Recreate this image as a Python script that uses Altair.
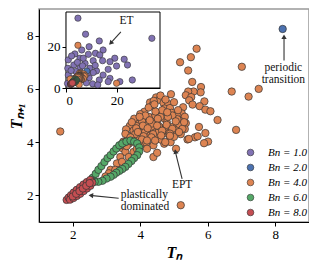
import altair as alt
import pandas as pd

bn_labels = ["Bn = 1.0", "Bn = 2.0", "Bn = 4.0", "Bn = 6.0", "Bn = 8.0"]
bn_colors = ["#8172B3", "#4C72B0", "#DD8452", "#55A868", "#C44E52"]

# Bn = 1.0 (only in inset range)
bn1_x = [4.7, 7.7, 13.1, 9.1, 33.8, 14.6, 11.6, 6.2, 3.5, 0.9, 5.5, 8.8, 13.3, 19.2, 22.9,
         24.2, 19.9, 16.6, 14.4, 10.7, 7.5, 3.1, 0.7, 12.0, 14.6, 17.3, 13.1, 9.1, 26.1,
         21.2, 16.6, 5.5, 3.9, 0.9, 9.4, 6.8, 2.2, 17.3, 10.7, 8.4, 1.5, 2.5, 0.6, 6.0,
         7.0, 10.5, 12.5, 8.0, 11.5, 4.5, 2.0, 6.5]
bn1_y = [34.0, 26.2, 22.9, 20.1, 24.2, 18.5, 16.9, 18.5, 16.6, 13.7, 14.5, 16.4, 16.1, 14.5,
         14.0, 11.2, 10.7, 9.1, 13.3, 13.3, 12.0, 11.2, 9.6, 8.3, 6.3, 4.7, 3.9, 5.0, 3.9,
         3.1, 3.1, 9.6, 8.0, 6.3, 9.6, 14.5, 15.6, 12.8, 7.5, 7.2, 3.0, 4.5, 2.2, 6.5, 4.0,
         2.0, 1.5, 2.5, 11.0, 12.5, 8.5, 10.8]

# Bn = 2.0
bn2_x = [8.22]
bn2_y = [8.25]

# Bn = 4.0
bn4_x = [5.67, 5.50, 5.18, 5.42, 7.01, 5.54, 5.80, 5.79, 6.71, 7.51, 7.21, 5.58, 5.42, 5.35,
         5.51, 5.45, 5.90, 5.55, 5.27, 5.76, 5.93, 6.08, 5.23, 5.32, 5.18, 5.35, 6.29, 6.84,
         5.32, 5.74, 5.93, 5.62, 5.70, 5.40, 6.01, 5.89,
         4.91, 4.47, 4.56, 4.29, 4.69, 4.83, 4.36, 4.72, 4.88, 4.12, 4.57, 4.93, 5.08, 3.82,
         4.34, 4.72, 5.10, 3.97, 4.20, 4.49, 4.79, 5.15, 3.69, 4.10, 4.34, 4.59, 4.96, 3.80,
         4.02, 4.44, 4.69, 5.08, 5.44, 3.71, 4.20, 4.49, 4.88, 3.66, 4.00, 4.39, 4.71, 5.06,
         3.46,
         3.90, 4.05, 4.25, 4.45, 4.60, 4.15, 4.30, 4.60, 4.75, 4.55, 3.95, 3.85, 4.35, 4.65,
         4.95, 4.85, 4.25, 4.40, 4.00, 4.60, 4.75, 5.00, 4.15, 3.75, 4.55, 4.90, 5.20, 5.25,
         5.00,
         3.58, 3.88, 4.08, 4.28, 4.52, 4.82, 3.62, 3.93, 4.22, 4.50, 4.78, 5.05, 4.10, 4.38,
         4.65, 4.95, 3.78, 4.05, 4.33, 4.62, 4.88, 5.15, 3.50, 3.98, 4.45, 5.12, 5.30, 4.42,
         4.18, 4.80,
         3.56, 3.71, 3.41, 4.20, 4.44, 4.74, 4.88, 4.39, 4.50, 4.20, 3.56, 3.41, 3.31, 3.12,
         3.80, 3.66, 3.46, 3.26, 3.07, 2.97, 3.60, 3.90, 3.55,
         1.63, 5.20, 4.7, 19.9]
bn4_y = [7.51, 7.19, 7.00, 6.69, 6.83, 6.26, 6.07, 5.87, 5.90, 6.00, 5.71, 5.90, 5.90, 5.76,
         5.69, 5.57, 5.53, 5.41, 5.31, 5.35, 5.22, 5.16, 5.08, 4.95, 4.79, 4.71, 4.83, 4.46,
         4.49, 4.57, 4.34, 4.18, 4.22, 4.10, 4.02, 3.96,
         5.80, 5.68, 5.59, 5.49, 5.47, 5.43, 5.38, 5.26, 5.28, 5.14, 5.08, 5.10, 5.04, 4.88,
         4.92, 4.88, 4.86, 4.70, 4.71, 4.73, 4.73, 4.62, 4.61, 4.55, 4.53, 4.55, 4.57, 4.43,
         4.33, 4.36, 4.33, 4.43, 4.12, 4.12, 4.12, 4.21, 4.18, 3.94, 3.88, 3.88, 3.94, 3.75,
         3.78,
         4.60, 4.80, 4.95, 5.00, 4.95, 4.40, 4.25, 4.10, 4.50, 4.40, 4.15, 4.30, 4.70, 5.20,
         5.00, 4.35, 5.30, 5.55, 5.05, 5.75, 5.60, 5.50, 5.00, 4.75, 4.60, 4.00, 4.30, 4.50,
         4.20,
         4.48, 4.52, 4.62, 4.82, 4.88, 4.95, 4.25, 4.38, 4.52, 4.62, 4.65, 4.78, 4.22, 4.30,
         4.43, 4.50, 4.02, 4.10, 4.18, 4.25, 4.32, 4.38, 4.02, 4.95, 5.15, 5.20, 4.75, 5.42,
         3.98, 5.12,
         4.31, 4.18, 3.88, 4.06, 4.06, 4.00, 4.24, 3.44, 3.60, 3.75, 3.63, 3.44, 3.20, 2.96,
         3.63, 3.44, 3.26, 2.96, 2.83, 2.71, 3.85, 3.75, 4.00,
         4.40, 1.63, 20.8, 2.3]

# Bn = 6.0
bn6_x = [2.59, 2.68, 2.76, 2.85, 2.94, 3.03, 3.12, 3.21, 3.29, 3.38, 3.47, 3.59, 3.71, 3.82,
         3.91, 3.97, 3.97, 3.91, 3.82, 3.74, 3.65, 3.56, 3.47, 3.38, 3.29, 3.21, 3.12, 3.00,
         2.88, 2.76, 2.65, 2.56]
bn6_y = [2.66, 2.81, 2.96, 3.10, 3.25, 3.40, 3.51, 3.65, 3.76, 3.88, 3.95, 4.02, 4.06, 4.02,
         3.95, 3.80, 3.65, 3.51, 3.40, 3.29, 3.18, 3.07, 2.99, 2.92, 2.85, 2.77, 2.70, 2.63,
         2.55, 2.51, 2.51, 2.55]

# Bn = 8.0
bn8_x = [1.82, 1.88, 1.95, 2.03, 2.12, 2.22, 2.32, 2.42, 2.52, 1.92, 2.02, 2.12, 2.22, 2.32,
         2.42, 2.52, 2.58, 2.00, 2.10, 2.20, 2.30, 2.40, 2.50]
bn8_y = [1.83, 1.92, 2.01, 2.11, 2.21, 2.31, 2.41, 2.50, 2.58, 1.84, 1.90, 1.98, 2.06, 2.16,
         2.26, 2.36, 2.48, 1.96, 2.06, 2.16, 2.26, 2.36, 2.46]

rows = []
for lab, xs, ys in zip(bn_labels, [bn1_x, bn2_x, bn4_x, bn6_x, bn8_x],
                       [bn1_y, bn2_y, bn4_y, bn6_y, bn8_y]):
    for a, b in zip(xs, ys):
        rows.append({"Tn": a, "Tn1": b, "Bn": lab})
df = pd.DataFrame(rows)

SERIF = "Liberation Serif"

x_main = alt.Scale(domain=[1, 9], nice=False, zero=False)
y_main = alt.Scale(domain=[1, 9], nice=False, zero=False)
ax_x = alt.Axis(values=[2, 4, 6, 8], title="Tₙ", orient="bottom", grid=False,
                tickSize=4, labelFont=SERIF, labelFontSize=13, labelColor="black",
                titleFont=SERIF, titleFontSize=16, titleFontStyle="italic",
                titleFontWeight="bold", titleColor="black", domainColor="black",
                tickColor="black", titlePadding=3)
ax_y = alt.Axis(values=[2, 4, 6, 8], title="Tₙ₊₁", orient="left", grid=False,
                tickSize=4, labelFont=SERIF, labelFontSize=13, labelColor="black",
                titleFont=SERIF, titleFontSize=16, titleFontStyle="italic",
                titleFontWeight="bold", titleColor="black", domainColor="black",
                tickColor="black", titlePadding=2)

color = alt.Color("Bn:N", scale=alt.Scale(domain=bn_labels, range=bn_colors),
                  legend=alt.Legend(orient="none", legendX=206, legendY=138, title=None,
                                    labelFont=SERIF, labelFontStyle="italic",
                                    labelFontSize=11, symbolSize=45, symbolType="circle",
                                    symbolStrokeColor="#333", symbolStrokeWidth=0.6,
                                    labelOffset=12, rowPadding=3))

main_pts = alt.Chart(df).transform_filter("datum.Bn != 'Bn = 1.0'").mark_circle(
    size=55, stroke="#333", strokeWidth=0.7, opacity=1, clip=True
).encode(
    x=alt.X("Tn:Q", scale=x_main, axis=ax_x),
    y=alt.Y("Tn1:Q", scale=y_main, axis=ax_y),
    color=color,
)

# annotations (main)
arr_x = [8.26, 5.24, 3.36]
arr_y = [7.07, 2.62, 1.89]
arr_x2 = [8.26, 5.03, 2.51]
arr_y2 = [7.93, 3.69, 2.00]
head_x = [8.26, 5.05, 2.56]
head_y = [7.93, 3.62, 1.995]
head_ang = [0, 347, 274]
arrows = pd.DataFrame({"Tn": arr_x, "Tn1": arr_y, "Tn_b": arr_x2, "Tn1_b": arr_y2})
heads = pd.DataFrame({"Tn": head_x, "Tn1": head_y, "ang": head_ang})

rules_main = alt.Chart(arrows).mark_rule(color="#333", strokeWidth=1.1).encode(
    x=alt.X("Tn:Q", scale=x_main, axis=ax_x), y=alt.Y("Tn1:Q", scale=y_main, axis=ax_y),
    x2="Tn_b:Q", y2="Tn1_b:Q")
heads_main = alt.Chart(heads).mark_point(shape="triangle", filled=True, size=28,
                                         color="#333", opacity=1).encode(
    x=alt.X("Tn:Q", scale=x_main, axis=ax_x), y=alt.Y("Tn1:Q", scale=y_main, axis=ax_y),
    angle=alt.Angle("ang:Q", scale=None))

txt_c = pd.DataFrame({"Tn": [8.24, 8.24, 5.24], "Tn1": [6.80, 6.34, 2.40],
                      "t": ["periodic", "transition", "EPT"]})
txt_l = pd.DataFrame({"Tn": [3.42, 3.42], "Tn1": [2.02, 1.58],
                      "t": ["plastically", "dominated"]})
text_c = alt.Chart(txt_c).mark_text(font=SERIF, fontSize=11.5, align="center",
                                    baseline="middle", color="#111").encode(
    x=alt.X("Tn:Q", scale=x_main, axis=ax_x), y=alt.Y("Tn1:Q", scale=y_main, axis=ax_y),
    text="t:N")
text_l = alt.Chart(txt_l).mark_text(font=SERIF, fontSize=11.5, align="left",
                                    baseline="middle", color="#111").encode(
    x=alt.X("Tn:Q", scale=x_main, axis=ax_x), y=alt.Y("Tn1:Q", scale=y_main, axis=ax_y),
    text="t:N")

main = alt.layer(main_pts, rules_main, heads_main, text_c, text_l)

# inset
x_in = alt.Scale(domain=[0, 37], range=[27, 121], nice=False, zero=False)
y_in = alt.Scale(domain=[0, 37], range=[79, 3], nice=False, zero=False)
ax_xi = alt.Axis(values=[0, 20], orient="bottom", offset=-134, title=None, grid=False,
                 tickSize=4, labelFont=SERIF, labelFontSize=13, labelColor="black",
                 domainColor="black", tickColor="black", domainWidth=1.2)
ax_yi = alt.Axis(values=[0, 20], orient="left", offset=-27, title=None, grid=False,
                 tickSize=4, labelFont=SERIF, labelFontSize=13, labelColor="black",
                 domainColor="black", tickColor="black", domainWidth=1.2)

frame = pd.DataFrame({"Tn": [0], "Tn1": [0], "Tn_b": [37], "Tn1_b": [37]})
inset_frame = alt.Chart(frame).mark_rect(fill="white", stroke="black", strokeWidth=1).encode(
    x=alt.X("Tn:Q", scale=x_in, axis=ax_xi), y=alt.Y("Tn1:Q", scale=y_in, axis=ax_yi),
    x2="Tn_b:Q", y2="Tn1_b:Q")
inset_pts = alt.Chart(df).mark_circle(size=40, stroke="#333", strokeWidth=0.6,
                                      opacity=1).encode(
    x=alt.X("Tn:Q", scale=x_in, axis=ax_xi), y=alt.Y("Tn1:Q", scale=y_in, axis=ax_yi),
    color=color)
et_arrow = pd.DataFrame({"Tn": [21.6], "Tn1": [27.3], "Tn_b": [17.3], "Tn1_b": [21.5]})
et_head = pd.DataFrame({"Tn": [17.8], "Tn1": [22.1], "ang": [223]})
et_text = pd.DataFrame({"Tn": [23.8], "Tn1": [32.4], "t": ["ET"]})
inset_rule = alt.Chart(et_arrow).mark_rule(color="#333", strokeWidth=1.1).encode(
    x=alt.X("Tn:Q", scale=x_in, axis=ax_xi), y=alt.Y("Tn1:Q", scale=y_in, axis=ax_yi),
    x2="Tn_b:Q", y2="Tn1_b:Q")
inset_head = alt.Chart(et_head).mark_point(shape="triangle", filled=True, size=28,
                                           color="#333", opacity=1).encode(
    x=alt.X("Tn:Q", scale=x_in, axis=ax_xi), y=alt.Y("Tn1:Q", scale=y_in, axis=ax_yi),
    angle=alt.Angle("ang:Q", scale=None))
inset_txt = alt.Chart(et_text).mark_text(font=SERIF, fontSize=11.5, align="center",
                                         baseline="middle", color="#111").encode(
    x=alt.X("Tn:Q", scale=x_in, axis=ax_xi), y=alt.Y("Tn1:Q", scale=y_in, axis=ax_yi),
    text="t:N")

inset = alt.layer(inset_frame, inset_pts, inset_rule, inset_head, inset_txt)

chart = alt.layer(main, inset).resolve_scale(
    x="independent", y="independent"
).properties(
    width=270, height=213,
    autosize=alt.AutoSizeParams(type="none"),
    padding={"left": 31, "top": 1, "right": 0, "bottom": 44},
).configure_view(stroke="#999", strokeWidth=1.5)

chart.save("out.html", embed_options={"renderer": "svg", "actions": False})
